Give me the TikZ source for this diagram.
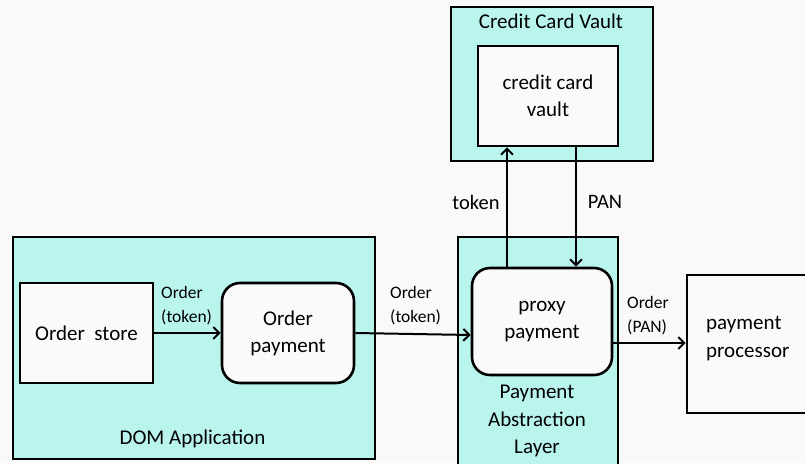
\documentclass[tikz,border=0pt]{standalone}
\usepackage{fontspec}
\setmainfont{Carlito}
\usetikzlibrary{arrows.meta}
\definecolor{bgc}{RGB}{249,249,249}
\definecolor{tealc}{RGB}{185,245,237}
\definecolor{boxc}{RGB}{250,250,250}
\begin{document}
\begin{tikzpicture}[x=1pt,y=-1pt,
  container/.style={draw=black,line width=2.6pt,fill=tealc,inner sep=0,rectangle},
  plainbox/.style={draw=black,line width=2.6pt,fill=boxc,inner sep=0,rectangle,font=\fontsize{21}{27}\selectfont,align=center},
  roundbox/.style={plainbox,rounded corners=18pt},
  biglabel/.style={inner sep=0,font=\fontsize{21}{27.5}\selectfont,align=center},
  smalllabel/.style={inner sep=0,font=\fontsize{17.5}{24}\selectfont,align=left,anchor=west},
  arr/.style={line width=2pt,-{Straight Barb[length=6pt,width=12pt,line width=2pt]}}
]
\useasboundingbox (0,0) rectangle (805,463);
\clip (0,0) rectangle (805,463);
\fill[bgc] (0,0) rectangle (805,463);

% containers
\node[container,minimum width=362,minimum height=222] (dom) at (194,348) {};
\node[container,minimum width=202,minimum height=154] (ccv) at (552,84) {};
\node[container,minimum width=160,minimum height=243] (pal) at (538,358.5) {};

% inner boxes
\node[plainbox,minimum width=133,minimum height=100] (store) at (86.5,333) {Order\ \ store};
\node[roundbox,minimum width=132,minimum height=100] (opay) at (288,333) {Order\\payment};
\node[plainbox,minimum width=140,minimum height=100] (vault) at (548,96) {credit card\\vault};
\node[roundbox,minimum width=140,minimum height=107] (proxy) at (542,321.5) {proxy\\payment};
\node[plainbox,minimum width=143,minimum height=138] (proc) at (758.5,344) {};

% container labels
\node[biglabel] (domlbl) at (192.5,439) {DOM Application};
\node[biglabel] (ccvlbl) at (551,21) {Credit Card Vault};
\node[biglabel] (pallbl) at (537,421) {Payment\\Abstraction\\Layer};
\node[biglabel,align=left,anchor=west] (proclbl) at (706,338.5) {payment\\processor};

% helper coordinates
\coordinate (tokx) at (507,0);
\coordinate (panx) at (576,0);
\coordinate (m2) at (0,335);
\coordinate (py) at (0,343);

% connectors
\draw[arr] (store.east) -- (opay.west);
\draw[arr] (opay.east) -- (proxy.west |- m2);
\draw[arr] (proxy.north -| tokx) -- (vault.south -| tokx);
\draw[arr] (vault.south -| panx) -- (proxy.north -| panx);
\draw[arr] (proxy.east |- py) -- (proc.west |- py);

% connector labels
\node[smalllabel] (l1) at (161,306) {Order\\(token)};
\node[smalllabel] (l2) at (390,305.5) {Order\\(token)};
\node[smalllabel] (l3) at (627,315.5) {Order\\(PAN)};
\node[biglabel,font=\fontsize{20.5}{24}\selectfont] (ltok) at (476,202) {token};
\node[biglabel,font=\fontsize{20.5}{24}\selectfont] (lpan) at (605,202) {PAN};
\end{tikzpicture}
\end{document}
